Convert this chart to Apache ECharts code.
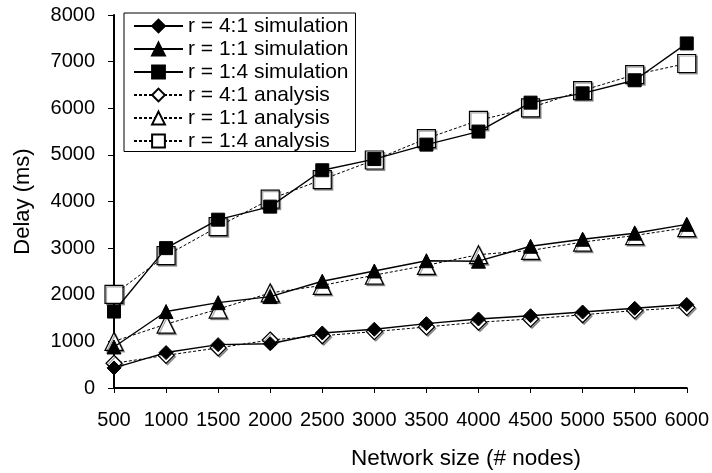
<!DOCTYPE html>
<html><head><meta charset="utf-8">
<script src="https://cdn.jsdelivr.net/npm/echarts@6/dist/echarts.min.js"></script>
<style>html,body{margin:0;padding:0;background:#fff}#c{width:712px;height:473px}</style>
</head><body><div id="c"></div>
<script>
var categories = ['500','1000','1500','2000','2500','3000','3500','4000','4500','5000','5500','6000'];
var sim41 = [430, 760, 930, 950, 1180, 1260, 1380, 1480, 1550, 1630, 1710, 1790];
var sim11 = [880, 1640, 1830, 1960, 2290, 2510, 2730, 2720, 3040, 3190, 3320, 3510];
var sim14 = [1640, 3000, 3610, 3890, 4670, 4910, 5220, 5500, 6120, 6320, 6600, 7390];
var ana41 = [530, 700, 860, 1030, 1120, 1210, 1310, 1410, 1480, 1570, 1660, 1730];
var ana11 = [1000, 1370, 1690, 2040, 2200, 2420, 2630, 2860, 2950, 3130, 3270, 3440];
var ana14 = [2010, 2840, 3460, 4050, 4470, 4890, 5350, 5740, 6010, 6380, 6720, 6960];
var names = ['r = 4:1 simulation','r = 1:1 simulation','r = 1:4 simulation','r = 4:1 analysis','r = 1:1 analysis','r = 1:4 analysis'];

var FONT = '"Liberation Sans", Arial, sans-serif';
function sim(name, data, symbol, size) {
  return { name: name, type: 'line', data: data, symbol: symbol, symbolSize: size, z: 3,
    lineStyle: { color: '#000', width: 1.4, type: 'solid' },
    itemStyle: { color: '#000', borderColor: '#000', borderWidth: 1 } };
}
function ana(name, data, symbol, size) {
  return { name: name, type: 'line', data: data, symbol: symbol, symbolSize: size, z: 2,
    lineStyle: { color: '#000', width: 1, type: [3, 2] },
    itemStyle: { color: '#fff', borderColor: '#000', borderWidth: 1.2,
      shadowColor: 'rgba(0,0,0,0.35)', shadowOffsetX: 1.5, shadowOffsetY: 1.5, shadowBlur: 0 } };
}
var chart = echarts.init(document.getElementById('c'), null, { renderer: 'canvas' });
chart.setOption({
  animation: false,
  backgroundColor: '#fff',
  textStyle: { fontFamily: FONT, color: '#000' },
  grid: { left: 114, right: 23, top: 15, bottom: 85 },
  legend: {
    data: names, orient: 'vertical', left: 124, top: 13,
    itemWidth: 49, itemHeight: 16, itemGap: 2,
    padding: [2.5, 7, 0, 9],
    backgroundColor: '#fff', borderColor: '#000', borderWidth: 1,
    textStyle: { fontFamily: FONT, fontSize: 21, lineHeight: 21, color: '#000' }
  },
  xAxis: {
    type: 'category', data: categories, boundaryGap: false,
    axisLine: { lineStyle: { color: '#000', width: 2 } },
    axisTick: { show: true, alignWithLabel: true, length: 5, lineStyle: { color: '#000', width: 1 } },
    axisLabel: { fontFamily: FONT, fontSize: 20, color: '#000', margin: 22, interval: 0 },
    splitLine: { show: false }
  },
  yAxis: {
    type: 'value', min: 0, max: 8000, interval: 1000,
    name: 'Delay (ms)', nameLocation: 'middle', nameGap: 80, nameRotate: 90,
    nameTextStyle: { fontFamily: FONT, fontSize: 22, color: '#000' },
    axisLine: { show: true, lineStyle: { color: '#000', width: 2 } },
    axisTick: { show: true, length: 6, lineStyle: { color: '#000', width: 1 } },
    axisLabel: { fontFamily: FONT, fontSize: 20, color: '#000', margin: 19, formatter: function (v) { return String(v); } },
    splitLine: { show: false }
  },
  graphic: [{ type: 'text', x: 466, y: 459,
    style: { text: 'Network size (# nodes)', fontFamily: FONT, fontSize: 22.5, fill: '#000',
      textAlign: 'center', textVerticalAlign: 'middle' } }],
  series: [
    sim(names[0], sim41, 'diamond', 14),
    sim(names[1], sim11, 'triangle', 14),
    sim(names[2], sim14, 'rect', 13),
    ana(names[3], ana41, 'diamond', 16),
    ana(names[4], ana11, 'triangle', 18),
    ana(names[5], ana14, 'rect', 18)
  ]
});
</script></body></html>
